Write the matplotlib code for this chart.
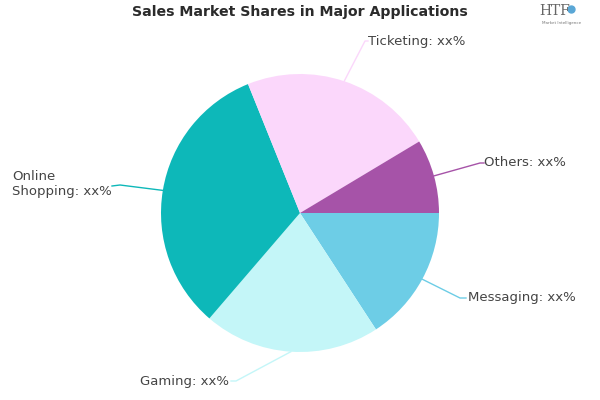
import matplotlib
matplotlib.use('Agg')
import matplotlib.pyplot as plt
import numpy as np

categorias = ['Messaging', 'Gaming', 'Online\nShopping', 'Ticketing', 'Others']
valores = [15.8, 20.5, 32.6, 22.5, 8.6]
colores = ['#6dcde6', '#c4f6f8', '#0db8b9', '#fbd7fb', '#a653a8']
titulo = 'Sales Market Shares in Major Applications'

# posiciones en pixeles (x, y desde arriba): texto, codo y union de la linea guia
pos_texto = [(468, 298), (140, 381), (12, 184), (368, 41), (484, 163)]
pos_codo = [(460, 298), (236, 381), (120, 185), (365, 41), (480, 163)]
pos_union = [(466, 298), (231, 381), (112, 186), (368, 41), (484, 163)]

centro = (300, 400 - 213)
radio = 139

fig = plt.figure(figsize=(6, 4), dpi=100)
ax = fig.add_axes([0, 0, 1, 1])

cunas, _ = ax.pie(valores, colors=colores, startangle=0, counterclock=False,
                  center=centro, radius=radio, frame=True,
                  wedgeprops={'linewidth': 0})
ax.set_xlim(0, 600)
ax.set_ylim(0, 400)
ax.set_aspect('equal')
ax.axis('off')

for i, cuna in enumerate(cunas):
    ang = np.deg2rad((cuna.theta1 + cuna.theta2) / 2)
    x0 = centro[0] + radio * np.cos(ang)
    y0 = centro[1] + radio * np.sin(ang)
    cx, cy = pos_codo[i]
    ux, uy = pos_union[i]
    tx, ty = pos_texto[i]
    ax.plot([x0, cx, ux], [y0, 400 - cy, 400 - uy], color=colores[i], lw=1)
    ax.text(tx, 400 - ty, categorias[i] + ': xx%', ha='left', va='center',
            fontsize=9.5, color='#444444', linespacing=1.25)

ax.text(300, 388, titulo, ha='center', va='center', fontsize=10.2,
        fontweight='heavy', color='#2b2b2b')

# logo
ax.text(555, 389, 'HTF', ha='center', va='center', fontsize=10,
        color='#666666', family='DejaVu Serif')
ax.plot([571], [391], marker='o', markersize=5, color='#5aa7d6')
ax.text(562, 377, 'Market Intelligence', ha='center', va='center', fontsize=3,
        color='#777777')

fig.savefig('out.png', dpi=100)
